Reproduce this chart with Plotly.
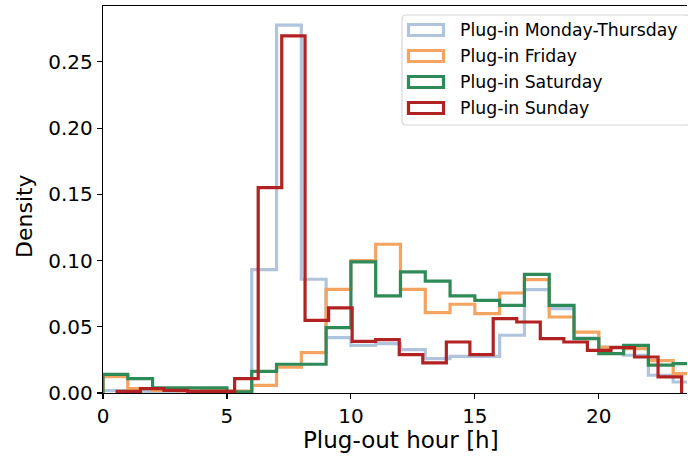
import plotly.graph_objects as go

# ---------------- data ----------------
series_names = ["Plug-in Monday-Thursday", "Plug-in Friday", "Plug-in Saturday", "Plug-in Sunday"]
series_colors = ["#B0C4DE", "#F4A460", "#2E8B57", "#B22222"]

edges_hourly = [0, 1, 2, 3, 4, 5, 6, 7, 8, 9, 10, 11, 12, 13, 14, 15, 16, 17, 18, 19, 20, 21, 22, 23, 24]
edges_sunday = [0.57, 1.51, 2.46, 3.41, 4.36, 5.31, 6.26, 7.21, 8.15, 9.10, 10.05, 11.00, 11.95,
                12.90, 13.85, 14.80, 15.74, 16.69, 17.64, 18.59, 19.54, 20.49, 21.44, 22.39, 23.34]

dens_mon_thu = [0.0018, 0.0012, 0.0012, 0.0010, 0.0010, 0.0013, 0.0932, 0.2777, 0.0859, 0.0418,
                0.0360, 0.0373, 0.0328, 0.0260, 0.0277, 0.0277, 0.0436, 0.0781, 0.0637, 0.0415,
                0.0347, 0.0285, 0.0134, 0.0083]
dens_friday = [0.0123, 0.0033, 0.0020, 0.0015, 0.0020, 0.0015, 0.0058, 0.0196, 0.0305, 0.0783,
               0.1000, 0.1123, 0.0783, 0.0607, 0.0670, 0.0600, 0.0755, 0.0856, 0.0574, 0.0460,
               0.0345, 0.0335, 0.0245, 0.0146]
dens_saturday = [0.0141, 0.0109, 0.0038, 0.0038, 0.0038, 0.0008, 0.0164, 0.0217, 0.0217, 0.0494,
                 0.0990, 0.0733, 0.0914, 0.0844, 0.0733, 0.0700, 0.0662, 0.0896, 0.0662, 0.0410,
                 0.0297, 0.0360, 0.0210, 0.0222]
dens_sunday = [0.0013, 0.0033, 0.0020, 0.0013, 0.0013, 0.0109, 0.1550, 0.2696, 0.0549, 0.0642,
               0.0390, 0.0403, 0.0290, 0.0227, 0.0385, 0.0290, 0.0562, 0.0536, 0.0411, 0.0385,
               0.0322, 0.0343, 0.0272, 0.0121]

x_ticks = [0, 5, 10, 15, 20]
y_ticks = [0.00, 0.05, 0.10, 0.15, 0.20, 0.25]
x_title = "Plug-out hour [h]"
y_title = "Density"

# ---------------- layout geometry ----------------
W, H = 688, 456
ML, MR, MT, MB = 103, 1, 6, 63
PW, PH = W - ML - MR, H - MT - MB
PX_PER_HOUR = 24.79
X_RANGE = [0, PW / PX_PER_HOUR]
Y_RANGE = [0, 0.2922]
FONT = "DejaVu Sans"
LW = 3.2


def pxx(x):
    return (x - ML) / PW


def pxy(y):
    return (H - MB - y) / PH


fig = go.Figure()

all_edges = [edges_hourly, edges_hourly, edges_hourly, edges_sunday]
all_dens = [dens_mon_thu, dens_friday, dens_saturday, dens_sunday]

for name, color, edges, dens in zip(series_names, series_colors, all_edges, all_dens):
    xs = [edges[0]] + list(edges)
    ys = [0] + list(dens) + [0]
    fig.add_trace(go.Scatter(
        x=xs, y=ys, mode="lines", name=name,
        line=dict(color=color, width=LW, shape="hv"),
        showlegend=False, hoverinfo="skip",
    ))

# ---------------- manual legend (matplotlib style) ----------------
shapes = []
annotations = []
bx0, bx1, by0, by1, r = 402, 690, 15, 125, 4
rx, ry = r / PW, r / PH
X0, X1, Y0, Y1 = pxx(bx0), pxx(bx1), pxy(by1), pxy(by0)
path = (f"M{X0+rx},{Y1} L{X1-rx},{Y1} Q{X1},{Y1} {X1},{Y1-ry} L{X1},{Y0+ry} "
        f"Q{X1},{Y0} {X1-rx},{Y0} L{X0+rx},{Y0} Q{X0},{Y0} {X0},{Y0+ry} "
        f"L{X0},{Y1-ry} Q{X0},{Y1} {X0+rx},{Y1} Z")
shapes.append(dict(type="path", xref="paper", yref="paper", path=path,
                   line=dict(color="#d5d5d5", width=1.2), fillcolor="rgba(255,255,255,0.8)",
                   layer="above"))
row_y = [30, 56, 82, 108]
for name, color, ry_ in zip(series_names, series_colors, row_y):
    shapes.append(dict(type="rect", xref="paper", yref="paper",
                       x0=pxx(408.5), x1=pxx(443.5), y0=pxy(ry_ + 5.5), y1=pxy(ry_ - 5.5),
                       line=dict(color=color, width=LW), fillcolor="rgba(0,0,0,0)", layer="above"))
    annotations.append(dict(xref="paper", yref="paper", x=pxx(458), y=pxy(ry_),
                            xanchor="left", yanchor="middle", text=name, showarrow=False,
                            font=dict(family=FONT, size=17.3, color="black")))

# axis titles
annotations.append(dict(xref="paper", yref="paper", x=pxx(400.5), y=pxy(440),
                        xanchor="center", yanchor="middle", text=x_title, showarrow=False,
                        font=dict(family=FONT, size=23, color="black")))
annotations.append(dict(xref="paper", yref="paper", x=pxx(24), y=pxy(216),
                        xanchor="center", yanchor="middle", text=y_title, showarrow=False,
                        textangle=-90, font=dict(family=FONT, size=22, color="black")))

fig.update_layout(
    width=W, height=H,
    margin=dict(l=ML, r=MR, t=MT, b=MB, pad=0),
    paper_bgcolor="white", plot_bgcolor="white",
    font=dict(family=FONT, color="black"),
    shapes=shapes, annotations=annotations,
    showlegend=False,
)
fig.update_xaxes(range=X_RANGE, tickvals=x_ticks, ticktext=[str(v) for v in x_ticks],
                 showgrid=False, zeroline=False, showline=True, linecolor="black", linewidth=1.2,
                 mirror=True, ticks="outside", ticklen=5, tickwidth=1.2, tickcolor="black",
                 tickfont=dict(family=FONT, size=20, color="black"))
fig.update_yaxes(range=Y_RANGE, tickvals=y_ticks, ticktext=[f"{v:.2f}" for v in y_ticks],
                 showgrid=False, zeroline=False, showline=True, linecolor="black", linewidth=1.2,
                 mirror=False, ticks="outside", ticklen=5, tickwidth=1.2, tickcolor="black",
                 tickfont=dict(family=FONT, size=20, color="black"))

fig.write_html("out.html", config={"displayModeBar": False, "staticPlot": True},
               post_script="document.body.style.margin='0px';")
